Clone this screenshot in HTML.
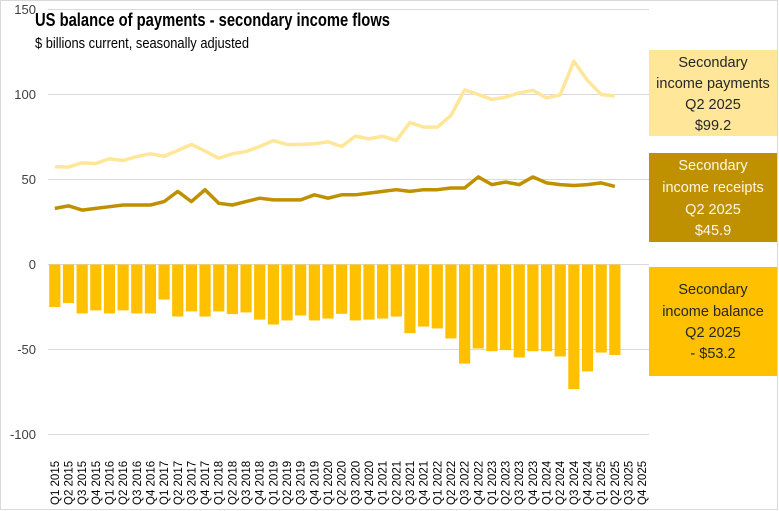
<!DOCTYPE html>
<html><head><meta charset="utf-8"><style>
body{margin:0;background:#fff}
svg{display:block}
text{font-family:"Liberation Sans",sans-serif}
</style></head><body>
<svg width="779" height="511" viewBox="0 0 779 511" xmlns="http://www.w3.org/2000/svg">
<rect x="0.5" y="0.5" width="777" height="509" fill="#fff" stroke="#d9d9d9"/>
<g stroke="#d9d9d9" stroke-width="1">
<line x1="48" x2="649" y1="9.5" y2="9.5"/>
<line x1="48" x2="649" y1="94.5" y2="94.5"/>
<line x1="48" x2="649" y1="179.5" y2="179.5"/>
<line x1="48" x2="649" y1="264.5" y2="264.5"/>
<line x1="48" x2="649" y1="349.5" y2="349.5"/>
<line x1="48" x2="649" y1="434.5" y2="434.5"/>
</g>
<g font-size="13" fill="#404040" text-anchor="end">
<text x="36" y="14">150</text>
<text x="36" y="99">100</text>
<text x="36" y="184">50</text>
<text x="36" y="269">0</text>
<text x="36" y="354">-50</text>
<text x="36" y="439">-100</text>
</g>
<text x="35" y="26" font-size="18" font-weight="bold" fill="#000" textLength="355" lengthAdjust="spacingAndGlyphs">US balance of payments - secondary income flows</text>
<text x="35" y="48" font-size="15" fill="#000" textLength="214" lengthAdjust="spacingAndGlyphs">$ billions current, seasonally adjusted</text>
<g id="bars" fill="#FFC000"></g>
<polyline id="pay" fill="none" stroke="#FFE699" stroke-width="3.5" stroke-linejoin="round"/>
<polyline id="rec" fill="none" stroke="#BF9000" stroke-width="3.5" stroke-linejoin="round"/>
<g id="labs" font-size="11.5" fill="#000"></g>
<rect x="649" y="50" width="128" height="86" fill="#FFE699"/>
<g font-size="14.5" text-anchor="middle" fill="#262626">
<text x="713" y="67">Secondary</text><text x="713" y="88">income payments</text><text x="713" y="109">Q2 2025</text><text x="713" y="130">$99.2</text>
</g>
<rect x="649" y="153" width="128" height="89" fill="#BF9000"/>
<g font-size="14.5" text-anchor="middle" fill="#fff8e0">
<text x="713" y="170">Secondary</text><text x="713" y="192">income receipts</text><text x="713" y="214">Q2 2025</text><text x="713" y="235">$45.9</text>
</g>
<rect x="649" y="267" width="128" height="109" fill="#FFC000"/>
<g font-size="14.5" text-anchor="middle" fill="#262626">
<text x="713" y="294">Secondary</text><text x="713" y="316">income balance</text><text x="713" y="337">Q2 2025</text><text x="713" y="358">- $53.2</text>
</g>
</svg>
<script>
var bal=[-25,-22.7,-28.8,-27,-28.8,-27,-28.8,-28.8,-20.6,-30.6,-27.6,-30.6,-27.6,-29.2,-28.2,-32.4,-35.3,-32.9,-30,-32.9,-31.8,-29,-32.9,-32.4,-31.8,-30.6,-40.4,-36.5,-37.6,-43.5,-58.3,-49.4,-51,-50.4,-54.7,-51,-51,-54.1,-73.3,-62.9,-51.8,-53.2];
var pay=[57.6,57.3,59.8,59.4,62.2,61.2,63.5,65.1,63.7,67.1,70.6,66.7,62.5,65.1,66.5,69.4,72.9,70.6,70.6,71,72.2,69.4,75.5,73.9,75.5,72.9,83.5,80.8,80.8,87.6,102.7,100,97.1,98.4,101,102.4,98,99.8,119.6,108.2,100,99.2];
var rec=[33,34.5,32,33,34,35,35,35,37,43,37,44,36,35,37,39,38,38,38,41,39,41,41,42,43,44,43,44,44,45,45,51.5,47,48.5,47,51.5,48,47,46.5,47,48,45.9];
var ns="http://www.w3.org/2000/svg",w=601/44;
function X(i){return 48+w*(i+0.5)}function Y(v){return 264.5-v*1.7}
var g=document.getElementById('bars');
bal.forEach(function(v,i){var r=document.createElementNS(ns,'rect');r.setAttribute('x',X(i)-5.6);r.setAttribute('width',11.2);r.setAttribute('y',264.5);r.setAttribute('height',-v*1.7);g.appendChild(r);});
document.getElementById('pay').setAttribute('points',pay.map(function(v,i){return X(i)+','+Y(v)}).join(' '));
document.getElementById('rec').setAttribute('points',rec.map(function(v,i){return X(i)+','+Y(v)}).join(' '));
var L=document.getElementById('labs');
for(var i=0;i<44;i++){var t=document.createElementNS(ns,'text');var q='Q'+(i%4+1)+' '+(2015+Math.floor(i/4));t.textContent=q;t.setAttribute('transform','translate('+(X(i)+4)+',505) rotate(-90)');L.appendChild(t);}
</script>
</body></html>
